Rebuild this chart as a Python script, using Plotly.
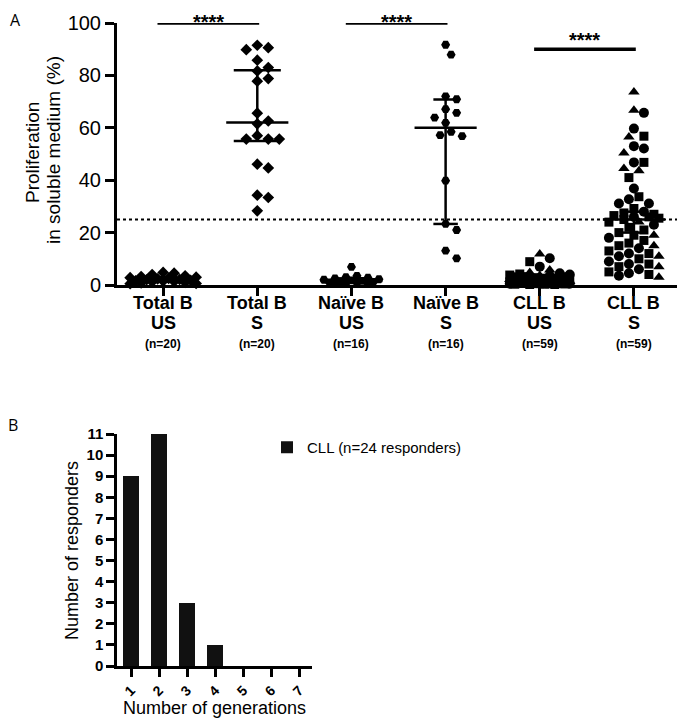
import plotly.graph_objects as go
import numpy as np

# ---------------- Panel A data ----------------
group_line1 = ["Total B", "Total B", "Naïve B", "Naïve B", "CLL B", "CLL B"]
group_line2 = ["US", "S", "US", "S", "US", "S"]
n_labels = ["(n=20)", "(n=20)", "(n=16)", "(n=16)", "(n=59)", "(n=59)"]

total_us = [4.8, 4.5, 4.0, 3.5, 3.2, 3.0, 2.8, 2.5, 2.3, 2.1, 2.0, 1.8, 1.6, 1.5, 1.3, 1.2, 1.0, 0.8, 0.6, 0.5]
total_s = [91.5, 90.6, 89.8, 85.8, 83.0, 81.7, 78.8, 77.8, 65.6, 62.6, 61.5, 57.0,
           55.7, 55.7, 55.7, 46.1, 44.7, 34.3, 33.4, 28.3]
naive_us = [6.9, 3.5, 3.0, 2.8, 2.5, 2.2, 2.0, 1.8, 1.6, 1.4, 1.2, 1.0, 0.8, 0.6, 0.5, 0.3]
naive_s = [91.7, 87.9, 72.0, 70.9, 67.1, 65.7, 63.9, 61.9, 58.5, 57.2, 56.8, 39.8, 23.3, 21.0, 13.1, 10.2]

cll_us_circle = [10.2, 7.0, 4.5, 4.0, 3.5, 3.0, 3.0, 2.5, 2.5, 2.0, 2.0, 2.0, 1.5, 1.5, 1.5, 1.0, 1.0, 1.0, 0.8, 0.5, 0.5]
cll_us_square = [8.9, 4.2, 3.8, 3.2, 2.8, 2.6, 2.4, 2.2, 2.0, 1.8, 1.6, 1.4, 1.2, 1.1, 1.0, 0.9, 0.8, 0.7,
                 0.6, 0.5, 0.5, 0.4, 0.3, 0.3, 0.2, 0.2]
cll_us_triangle = [11.8, 5.7, 4.8, 3.6, 2.6, 2.1, 1.7, 1.3, 0.9, 0.5, 0.3, 0.2]

cll_s_circle = [65.7, 59.7, 53.0, 52.1, 46.8, 36.8, 32.7, 31.1, 31.1,
                28.0, 26.0, 23.0, 18.0, 14.0, 12.0, 11.0, 9.0, 8.0, 6.0, 4.5, 3.5]
cll_s_square = [56.8, 46.8, 41.0, 33.7, 29.2,
                27.5, 27.0, 26.5, 26.0, 25.5, 25.0, 24.0, 22.0, 21.0, 20.0, 19.0, 17.0, 16.0, 15.0,
                13.0, 12.0, 10.0, 8.0, 7.0, 5.0, 4.0]
cll_s_triangle = [73.7, 66.7, 56.5, 50.4, 44.5, 43.6, 24.0, 19.0, 15.0, 11.0, 7.0, 3.0]

medians = [2.0, 62.0, 1.5, 60.0, 2.0, 25.0]
lower = [1.3, 55.0, 1.0, 23.3, 1.5, 20.0]
upper = [3.0, 82.0, 2.5, 70.8, 3.0, 28.0]

threshold = 25
bracket_left = [0, 2, 4]
bracket_right = [1, 3, 5]
bracket_y = [100, 100, 90]
bracket_text = ["****", "****", "****"]

# ---------------- Panel B data ----------------
generations = [1, 2, 3, 4, 5, 6, 7]
responders = [9, 11, 3, 1, 0, 0, 0]
legend_name = "CLL (n=24 responders)"

# ---------------- geometry helpers ----------------
W, H = 685, 721
OFF = 8  # page body margin shifts the figure by this many pixels


def fx(px):
    return (px - OFF) / W


def fy(py):
    return 1 - (py - OFF) / H


A_top_px, A_bot_px = 23, 285
A_x = [fx(117), fx(681)]
A_y = [fy(A_bot_px), fy(A_top_px)]
B_x = [fx(117), fx(312)]
B_y = [fy(666), fy(434)]
A_xrange = [-0.49, 5.5]
A_yrange = [0, 100]
px_x = (A_x[1] - A_x[0]) * W / (A_xrange[1] - A_xrange[0])
px_y = (A_y[1] - A_y[0]) * H / (A_yrange[1] - A_yrange[0])


def swarm(values, center, diam, max_half):
    """Deterministic beeswarm: horizontal offsets (in category units)."""
    order = np.argsort(-np.asarray(values), kind="stable")
    step = diam * 0.5
    cands = [0.0]
    k = 1
    while k * step <= max_half:
        cands += [k * step, -k * step]
        k += 1
    placed = []
    offs = np.zeros(len(values))
    for i in order:
        yp = values[i] * px_y
        best, best_d = None, -1
        for c in cands:
            d = min([np.hypot(c - px, yp - py) for px, py in placed] or [1e9])
            if d >= diam * 0.92:
                best = c
                break
            if d > best_d:
                best_d, best = d, c
        placed.append((best, yp))
        offs[i] = best
    return [center + o / px_x for o in offs]


fig = go.Figure()
BLACK = "#000000"
FONT = "Liberation Sans, Arial, sans-serif"


def add_pts(xs, ys, symbol, size):
    fig.add_trace(go.Scatter(x=xs, y=ys, mode="markers", xaxis="x", yaxis="y",
                             marker=dict(symbol=symbol, size=size, color=BLACK,
                                         line=dict(width=0)),
                             showlegend=False, hoverinfo="y", cliponaxis=False))


for idx, (vals, sym, size, half) in enumerate([
        (total_us, "diamond", 9, 34), (total_s, "diamond", 9, 34),
        (naive_us, "hexagon2", 9, 30), (naive_s, "hexagon2", 9, 30)]):
    xs = swarm(vals, idx, 11, half)
    add_pts(xs, vals, sym, size)

for idx, (circ, sq, tri, half) in [(4, (cll_us_circle, cll_us_square, cll_us_triangle, 32)),
                                   (5, (cll_s_circle, cll_s_square, cll_s_triangle, 26))]:
    vals = circ + sq + tri
    shapes = ["circle"] * len(circ) + ["square"] * len(sq) + ["triangle-up"] * len(tri)
    xs = swarm(vals, idx, 10, half)
    for sym, size in [("circle", 10), ("square", 9), ("triangle-up", 10)]:
        sel = [i for i, s in enumerate(shapes) if s == sym]
        add_pts([xs[i] for i in sel], [vals[i] for i in sel], sym, size)

# median + error bars
cap_half = [0.15, 0.25, 0.15, 0.13, 0.15, 0.15]
for i in range(len(group_line1)):
    line = dict(color=BLACK, width=2.5)
    fig.add_trace(go.Scatter(x=[i - 0.33, i + 0.33], y=[medians[i]] * 2, mode="lines",
                             line=line, showlegend=False, hoverinfo="skip"))
    fig.add_trace(go.Scatter(x=[i, i], y=[lower[i], upper[i]], mode="lines",
                             line=line, showlegend=False, hoverinfo="skip"))
    for v in (lower[i], upper[i]):
        fig.add_trace(go.Scatter(x=[i - cap_half[i], i + cap_half[i]], y=[v, v], mode="lines",
                                 line=line, showlegend=False, hoverinfo="skip"))

annotations = []
# significance brackets with star text (kept inside the visible page)
for l, r, yv, t in zip(bracket_left, bracket_right, bracket_y, bracket_text):
    fig.add_trace(go.Scatter(x=[l - 0.06, r + 0.02], y=[yv, yv], mode="lines",
                             line=dict(color=BLACK, width=3.5), showlegend=False,
                             hoverinfo="skip", cliponaxis=False))
    br_px = A_top_px + (A_yrange[1] - yv) * px_y
    box_center = max(br_px - 9, 22)
    annotations.append(dict(x=(l + r) / 2 - 0.02, y=yv, xref="x", yref="y", text="<b>" + t + "</b>",
                            showarrow=False, yanchor="middle", yshift=br_px - box_center,
                            font=dict(size=20, color=BLACK, family=FONT)))

# category labels (three lines) under panel A
for i, (a, b, n) in enumerate(zip(group_line1, group_line2, n_labels)):
    for txt, shift, fs in [(a, -18, 18), (b, -38, 18), (n, -59, 12)]:
        annotations.append(dict(x=i, y=0, xref="x", yref="y", text="<b>" + txt + "</b>",
                                showarrow=False, yanchor="middle", yshift=shift,
                                font=dict(size=fs, color=BLACK, family=FONT)))

# axis titles and panel letters
annotations += [
    dict(text="Proliferation", x=fx(32), y=fy(153), xref="paper", yref="paper", showarrow=False,
         textangle=-90, xanchor="center", yanchor="middle", font=dict(size=19, family=FONT, color=BLACK)),
    dict(text="in soluble medium (%)", x=fx(53), y=fy(150), xref="paper", yref="paper", showarrow=False,
         textangle=-90, xanchor="center", yanchor="middle", font=dict(size=19, family=FONT, color=BLACK)),
    dict(text="Number of responders", x=fx(72), y=fy(550), xref="paper", yref="paper", showarrow=False,
         textangle=-90, xanchor="center", yanchor="middle", font=dict(size=18, family=FONT, color=BLACK)),
    dict(text="Number of generations", x=fx(214), y=fy(708), xref="paper", yref="paper", showarrow=False,
         xanchor="center", yanchor="middle", font=dict(size=18, family=FONT, color=BLACK)),
    dict(text="A", x=fx(8), y=fy(20), xref="paper", yref="paper", showarrow=False,
         xanchor="left", yanchor="middle", font=dict(size=16, family="Open Sans", color=BLACK)),
    dict(text="B", x=fx(6), y=fy(425), xref="paper", yref="paper", showarrow=False,
         xanchor="left", yanchor="middle", font=dict(size=16, family="Open Sans", color=BLACK)),
]

# threshold dotted line
fig.add_shape(type="line", xref="x domain", yref="y", x0=0, x1=1, y0=threshold, y1=threshold,
              line=dict(color=BLACK, width=2, dash="dot"))

# ---------------- Panel B ----------------
fig.add_trace(go.Bar(x=generations, y=responders, xaxis="x2", yaxis="y2", name=legend_name,
                     marker=dict(color="#111111", line=dict(width=0)),
                     width=0.59, showlegend=True))

axis_common = dict(showline=True, linecolor=BLACK, showgrid=False, zeroline=False,
                   ticks="outside", tickcolor=BLACK)

fig.update_layout(
    width=W, height=H, margin=dict(l=0, r=0, t=0, b=0, autoexpand=False),
    paper_bgcolor="white", plot_bgcolor="white",
    font=dict(family=FONT, color=BLACK),
    bargap=0,
    xaxis=dict(domain=A_x, range=A_xrange, tickvals=list(range(len(group_line1))),
               ticktext=[""] * len(group_line1),
               linewidth=3, tickwidth=3, ticklen=8, anchor="y", **axis_common),
    yaxis=dict(domain=A_y, range=A_yrange, tickvals=[0, 20, 40, 60, 80, 100],
               linewidth=3, tickwidth=3, ticklen=9, tickfont=dict(size=20), anchor="x",
               **axis_common),
    xaxis2=dict(domain=B_x, range=[0.5, 7.45], tickvals=generations,
                ticktext=["<b>%d</b>" % g for g in generations], tickangle=-45,
                linewidth=2.5, tickwidth=2.5, ticklen=8, tickfont=dict(size=14), anchor="y2",
                **axis_common),
    yaxis2=dict(domain=B_y, range=[0, 11], tickvals=list(range(0, 12)),
                ticktext=["<b>%d</b>" % v for v in range(0, 12)],
                linewidth=2.5, tickwidth=2.5, ticklen=8, tickfont=dict(size=15), anchor="x2",
                **axis_common),
    legend=dict(x=fx(267), y=fy(431), xanchor="left", yanchor="top",
                font=dict(size=15), bgcolor="rgba(0,0,0,0)"),
    annotations=annotations,
)

fig.write_html("out.html")
